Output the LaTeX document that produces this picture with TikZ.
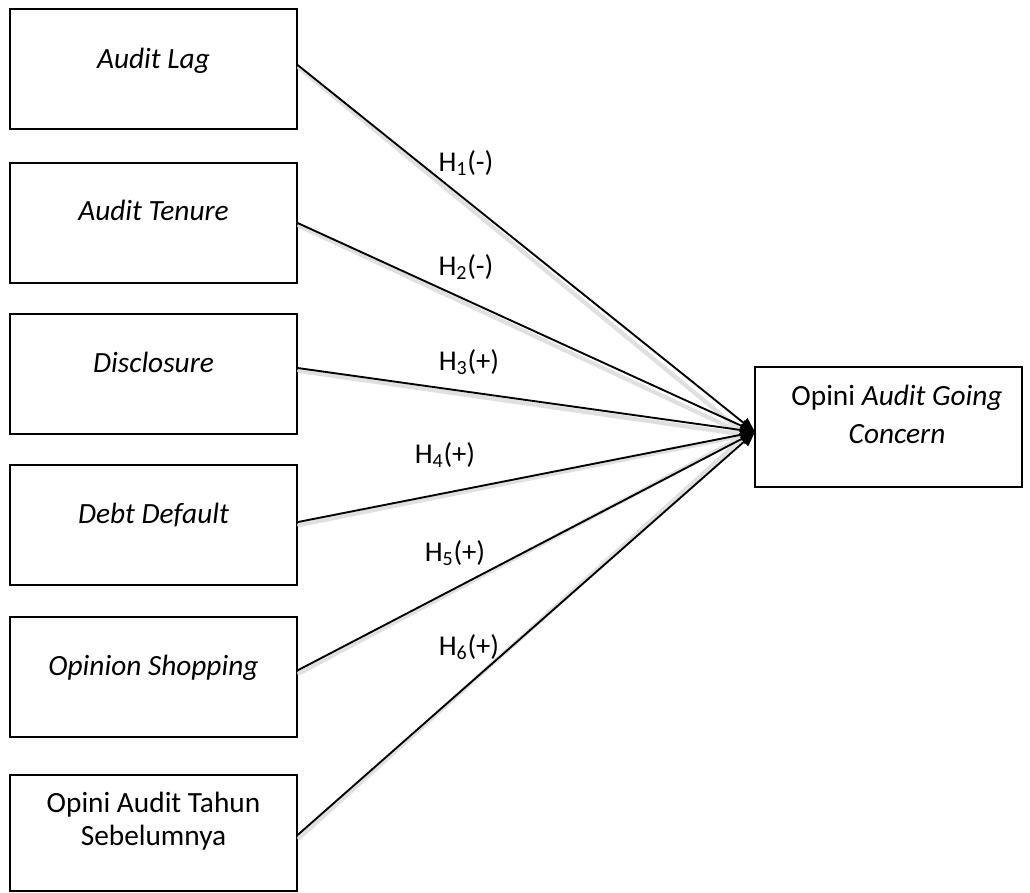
\documentclass[tikz,border=0pt]{standalone}
\usepackage{fontspec}
\setmainfont{Carlito}
\usetikzlibrary{arrows.meta}
\begin{document}
\begin{tikzpicture}[x=0.75pt,y=-0.75pt,
  box/.style={draw=black, line width=1.2pt, minimum width=215pt, minimum height=90pt, inner sep=0pt},
  txt/.style={inner sep=0pt, anchor=base, align=center, font=\fontsize{22}{24}\selectfont},
  hyp/.style={inner sep=0pt, anchor=base, font=\fontsize{21.5}{24}\selectfont},
  conn/.style={line width=1.4pt, -{Triangle[length=11pt,width=9pt]}},
  shadow/.style={line width=3.2pt, draw=black!12, line cap=round, transform canvas={shift={(1.2pt,-2.2pt)}}}
]
\useasboundingbox (0,0) rectangle (1030,892);

% left boxes
\node[box] (b1) at (153.5,69) {};
\node[box] (b2) at (153.5,223) {};
\node[box] (b3) at (153.5,374) {};
\node[box] (b4) at (153.5,525) {};
\node[box] (b5) at (153.5,677) {};
\node[box, minimum height=87pt] (b6) at (153.5,833) {};
% target box
\node[draw=black, line width=1.2pt, minimum width=200.25pt, minimum height=90pt, inner sep=0pt] (t) at (888.5,427) {};

% texts
\node[txt] (l1) at (153.5,69) {\textit{Audit Lag}};
\node[txt] (l2) at (153.5,220) {\textit{Audit Tenure}};
\node[txt] (l3) at (153.5,372) {\textit{Disclosure}};
\node[txt] (l4) at (153.5,523) {\textit{Debt Default}};
\node[txt] (l5) at (153.5,675) {\textit{Opinion Shopping}};
\node[txt, font=\fontsize{22}{24.5}\selectfont] (l6) at (153.5,845) {Opini Audit Tahun\\Sebelumnya};
\node[txt, font=\fontsize{22}{28.5}\selectfont] (lt) at (897,443) {Opini \textit{Audit Going}\\\textit{Concern}};

% connector end
\coordinate (tip) at (755,432);

% shadows
\foreach \b/\s in {b1/3pt, b2/0pt, b3/4.5pt, b4/2.2pt, b5/5pt, b6/-1.5pt}{
  \draw[shadow] ([yshift=\s]\b.east) -- ([xshift=-8pt]tip);
}
% connectors
\draw[conn] ([yshift=3pt]b1.east) -- (tip);
\draw[conn] (b2.east) -- (tip);
\draw[conn] ([yshift=4.5pt]b3.east) -- (tip);
\draw[conn] ([yshift=2.2pt]b4.east) -- (tip);
\draw[conn] ([yshift=5pt]b5.east) -- (tip);
\draw[conn] ([yshift=-1.5pt]b6.east) -- (tip);

% hypothesis labels
\node[hyp] (h1) at (466,171) {H\textsubscript{1}(-)};
\node[hyp] (h2) at (466,275) {H\textsubscript{2}(-)};
\node[hyp] (h3) at (469,370) {H\textsubscript{3}(+)};
\node[hyp] (h4) at (445,463) {H\textsubscript{4}(+)};
\node[hyp] (h5) at (455,561) {H\textsubscript{5}(+)};
\node[hyp] (h6) at (469,655) {H\textsubscript{6}(+)};
\end{tikzpicture}
\end{document}
